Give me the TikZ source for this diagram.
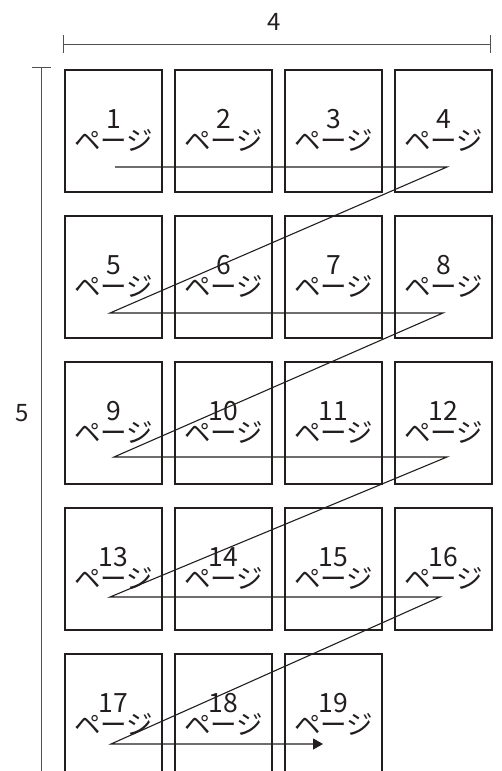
\documentclass[tikz,border=0pt]{standalone}
\usepackage{fontspec}
\setmainfont{Noto Sans CJK JP}
\definecolor{inkgray}{RGB}{35,30,30}
\definecolor{dimgray}{RGB}{80,80,80}
\usetikzlibrary{arrows.meta, positioning}

\begin{document}
\begin{tikzpicture}[
      x=1pt, y=-1pt,
      node distance=24pt and 13pt,
      page/.style={rectangle, draw=inkgray, line width=2pt, outer sep=0pt, inner sep=0pt, minimum width=97pt, minimum height=122pt, align=center, text=inkgray, font={\fontsize{26.5}{22.5}\selectfont\lineskiplimit=-30pt}},
      order/.style={line width=1.1pt, inkgray},
      dim/.style={line width=1pt, dimgray},
      dimlabel/.style={text=inkgray, font=\fontsize{24}{24}\selectfont},
    ]
    \useasboundingbox (0,0) rectangle (501,771);

    % dimensions
    \coordinate (wl) at (63,44);
    \coordinate (wr) at (491,44);
    \coordinate (ht) at (41,67);
    \coordinate (hb) at (41,775);
    \draw[dim, {Bar[width=18pt]}-{Bar[width=18pt]}] (wl) -- (wr);
    \draw[dim, {Bar[width=19pt]}-] (ht) -- (hb);
    \node[dimlabel] (wnum) at (274,22) {4};
    \node[dimlabel] (hnum) at (22,413) {5};

    % pages
    \node[page] (p1) at (113.5,130.5) {1\\ページ};
    \node[page, right=of p1] (p2) {2\\ページ};
    \node[page, right=of p2] (p3) {3\\ページ};
    \node[page, right=of p3] (p4) {4\\ページ};
    \node[page, below=of p1] (p5) {5\\ページ};
    \node[page, right=of p5] (p6) {6\\ページ};
    \node[page, right=of p6] (p7) {7\\ページ};
    \node[page, right=of p7] (p8) {8\\ページ};
    \node[page, below=of p5] (p9) {9\\ページ};
    \node[page, right=of p9] (p10) {10\\ページ};
    \node[page, right=of p10] (p11) {11\\ページ};
    \node[page, right=of p11] (p12) {12\\ページ};
    \node[page, below=of p9] (p13) {13\\ページ};
    \node[page, right=of p13] (p14) {14\\ページ};
    \node[page, right=of p14] (p15) {15\\ページ};
    \node[page, right=of p15] (p16) {16\\ページ};
    \node[page, below=of p13] (p17) {17\\ページ};
    \node[page, right=of p17] (p18) {18\\ページ};
    \node[page, right=of p18] (p19) {19\\ページ};

    % reading order
    \coordinate (s1) at (115,167);
    \coordinate (e1) at (447,167);
    \coordinate (s2) at (110,313);
    \coordinate (e2) at (443,313);
    \coordinate (s3) at (114,457);
    \coordinate (e3) at (447,457);
    \coordinate (s4) at (110,597);
    \coordinate (e4) at (440,597);
    \coordinate (s5) at (111,744);
    \coordinate (e5) at (323,744);
    \draw[order, -{Triangle[length=10pt, width=11pt]}]
      (s1) -- (e1) -- (s2) -- (e2) -- (s3) -- (e3) -- (s4) -- (e4) -- (s5) -- (e5);
  \end{tikzpicture}
\end{document}
